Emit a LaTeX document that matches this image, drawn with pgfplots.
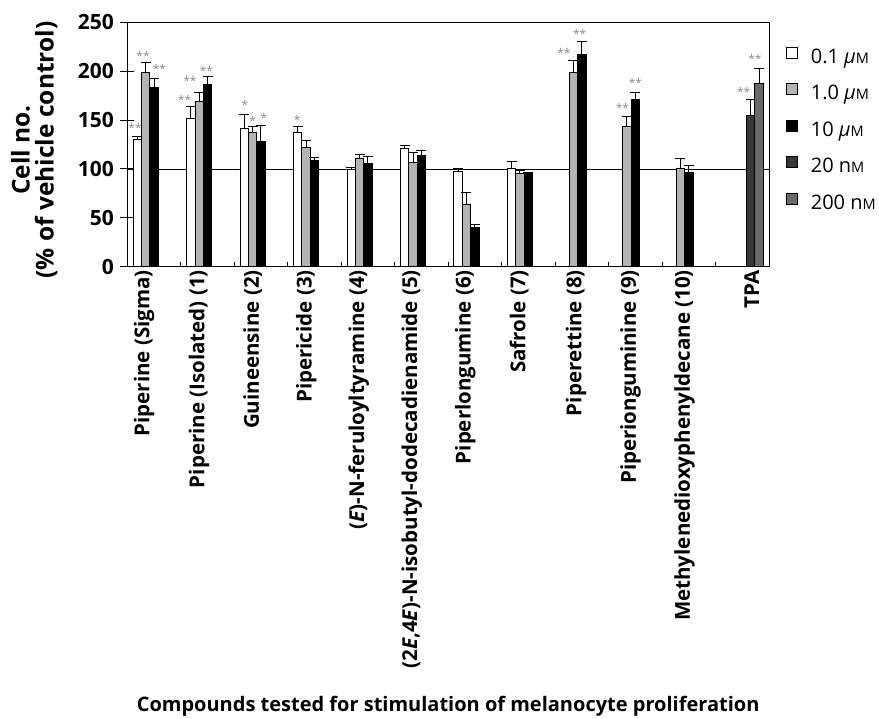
\documentclass[border=0pt]{standalone}
\usepackage{fontspec}
\setmainfont{Open Sans}
\usepackage{pgfplots}
\pgfplotsset{compat=1.18}
\definecolor{gA}{HTML}{B3B3B3}
\definecolor{gD}{HTML}{383838}
\definecolor{gM}{HTML}{696969}
\definecolor{starc}{HTML}{8C8C8C}
\newcommand{\smM}{{\fontsize{14.5}{14.5}\selectfont M}}
\pgfplotsset{
  legsq/.style={legend image code/.code={\draw[draw=black,line width=0.8pt,fill=#1] (0pt,1.6pt) rectangle (11pt,12.6pt);}},
  bars/.style={ybar, bar width=8.4pt, bar shift=0pt, draw=black, line width=0.8pt, forget plot,
    error bars/y dir=plus, error bars/y explicit,
    error bars/error bar style={line width=1pt, black},
    error bars/error mark options={rotate=90, black, line width=1pt, mark size=5pt}},
}
\tikzset{st/.style={font=\fontsize{12}{12}\selectfont, text=starc, inner sep=0pt}}
\begin{document}
\begin{tikzpicture}[x=1pt,y=1pt]
\begin{axis}[
  at={(127.3pt,452.3pt)}, anchor=south west,
  scale only axis, width=641.7pt, height=244.4pt,
  xmin=-0.5, xmax=11.5, ymin=0, ymax=250,
  axis line style={line width=1pt},
  /pgf/number format/assume math mode=true,
  ytick={0,50,100,150,200,250},
  ytick align=center, ytick pos=left,
  major tick length=14pt, minor tick length=5pt,
  tick style={line width=1pt, black},
  yticklabel style={font=\bfseries\fontsize{21}{21}\selectfont, xshift=-3pt},
  xtick={-0.187,0.843,1.844,2.846,3.83,4.82,5.82,6.83,7.89,8.91,9.92,11.18},
  xticklabels={Piperine (Sigma), Piperine (Isolated) (1), Guineensine (2), Pipericide (3),
    (\textit{E})-N-feruloyltyramine (4), {(2\textit{E},4\textit{E})-N-isobutyl-dodecadienamide (5)},
    Piperlongumine (6), Safrole (7), Piperettine (8), Piperionguminine (9),
    Methylenedioxyphenyldecane (10), TPA},
  xticklabel style={rotate=90, anchor=east, font=\bfseries\fontsize{20.5}{20.5}\selectfont},
  major x tick style={draw=none},
  minor xtick={0.5,1.5,...,10.5},
  xtick align=inside, xtick pos=bottom,
  ylabel={Cell no.\\(\% of vehicle control)},
  ylabel style={at={(axis description cs:-0.145,0.4775)}, anchor=center, align=center,
    font=\bfseries\fontsize{24.5}{24}\selectfont},
  xlabel={Compounds tested for stimulation of melanocyte proliferation},
  xlabel style={at={(axis description cs:0.5,-1.80)}, anchor=center,
    font=\bfseries\fontsize{20}{22}\selectfont},
  legend style={draw=none, fill=none, at={(axis description cs:1.0265,0.922)}, anchor=north west,
    font=\fontsize{20}{20}\selectfont, /tikz/row sep=0pt, /tikz/column sep=13pt, inner sep=0pt, outer sep=0pt,
    nodes={inner sep=0pt, outer sep=0pt, text height=22pt, text depth=14.5pt}},
  legend cell align=left,
  clip=false,
]
\addplot[black, line width=0.8pt, no marks, forget plot] coordinates {(-0.5,100) (11.5,100)};
% 0.1 uM (bars at category - 0.314)
\addplot[bars, fill=white] coordinates {
 (-0.314,130) +- (0,3) (0.686,152) +- (0,12) (1.686,141) +- (0,15) (2.686,137) +- (0,6)
 (3.686,100) +- (0,1.5) (4.686,121) +- (0,2.5) (5.686,97) +- (0,3) (6.686,101) +- (0,7)};
% 1.0 uM (category - 0.157)
\addplot[bars, fill=gA] coordinates {
 (-0.157,199) +- (0,10) (0.843,169) +- (0,9) (1.843,137) +- (0,6) (2.843,122) +- (0,7)
 (3.843,111) +- (0,4) (4.843,107) +- (0,10) (5.843,64) +- (0,12) (6.843,95.5) +- (0,3)
 (7.843,199) +- (0,12) (8.843,144) +- (0,10) (9.843,101) +- (0,10)};
% 10 uM
\addplot[bars, fill=black] coordinates {
 (0,183) +- (0,10) (1,186) +- (0,9) (2,128) +- (0,16) (3,109) +- (0,2.5)
 (4,106) +- (0,7) (5,114) +- (0,5) (6,40) +- (0,3.5) (7,95) +- (0,1)
 (8,217) +- (0,13) (9,171) +- (0,7) (10,96) +- (0,8)};
% 20 nM
\addplot[bars, fill=gD] coordinates {(11.157,155) +- (0,16)};
% 200 nM
\addplot[bars, fill=gM] coordinates {(11.314,188) +- (0,15)};
\addlegendimage{legsq=white}\addlegendentry{0.1 \textit{μ}\smM}
\addlegendimage{legsq=gA}\addlegendentry{1.0 \textit{μ}\smM}
\addlegendimage{legsq=black}\addlegendentry{10 \textit{μ}\smM}
\addlegendimage{legsq=gD}\addlegendentry{20 n\smM}
\addlegendimage{legsq=gM}\addlegendentry{200 n\smM}
% significance marks
\node[st] at (axis cs:-0.356,141.5) {**};
\node[st] at (axis cs:-0.206,215.7) {**};
\node[st] at (axis cs:0.102,202) {**};
\node[st] at (axis cs:0.57,170.4) {**};
\node[st] at (axis cs:0.672,189.9) {**};
\node[st] at (axis cs:0.981,200.1) {**};
\node[st] at (axis cs:1.701,165.3) {*};
\node[st] at (axis cs:1.845,149.3) {*};
\node[st] at (axis cs:2.056,152) {*};
\node[st] at (axis cs:2.679,150) {*};
\node[st] at (axis cs:7.666,218.5) {**};
\node[st] at (axis cs:7.96,237.9) {**};
\node[st] at (axis cs:8.76,162.6) {**};
\node[st] at (axis cs:9.003,188.1) {**};
\node[st] at (axis cs:11.027,178.9) {**};
\node[st] at (axis cs:11.238,212.4) {**};
\end{axis}
\pgfresetboundingbox
\path (0,0) rectangle (879,719);
\end{tikzpicture}
\end{document}
